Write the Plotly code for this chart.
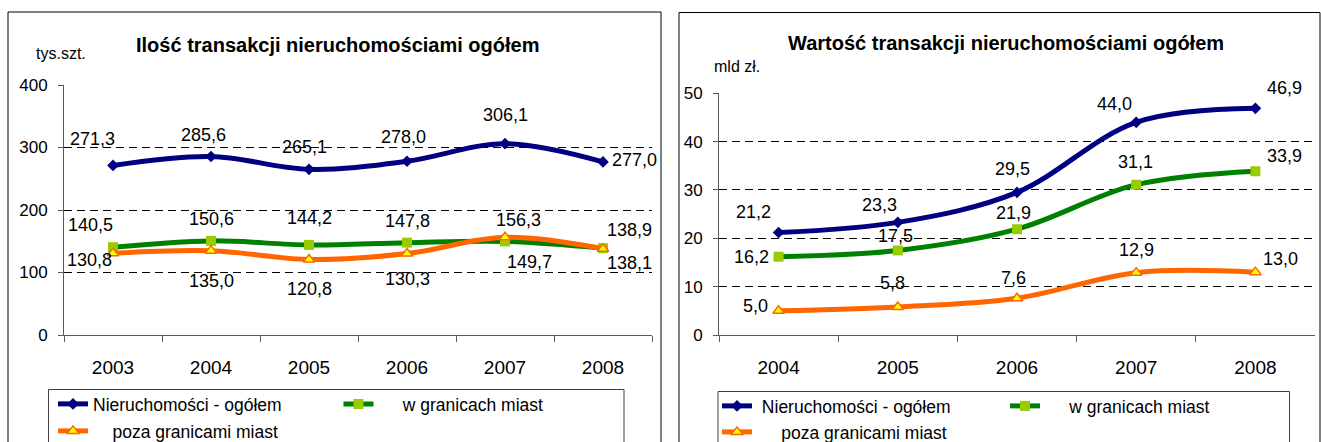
import plotly.graph_objects as go

W, H = 1321, 442
FONT = "Liberation Sans, Arial, sans-serif"


def px(x):
    return x / W


def py(y):
    return 1 - y / H


# ---------------- data ----------------
years_left = ["2003", "2004", "2005", "2006", "2007", "2008"]
left_total = [271.3, 285.6, 265.1, 278.0, 306.1, 277.0]
left_city = [140.5, 150.6, 144.2, 147.8, 149.7, 138.9]
left_outside = [130.8, 135.0, 120.8, 130.3, 156.3, 138.1]

years_right = ["2004", "2005", "2006", "2007", "2008"]
right_total = [21.2, 23.3, 29.5, 44.0, 46.9]
right_city = [16.2, 17.5, 21.9, 31.1, 33.9]
right_outside = [5.0, 5.8, 7.6, 12.9, 13.0]

series_names = ["Nieruchomości - ogółem", "w granicach miast", "poza granicami miast"]
left_title = "Ilość transakcji nieruchomościami ogółem"
right_title = "Wartość transakcji nieruchomościami ogółem"
left_unit = "tys.szt."
right_unit = "mld zł."

# label offsets (screen px; dy positive = down)
left_total_off = [(-21, -26), (-8, -22), (-5, -22), (-4, -24), (0, -29), (31, -2)]
left_city_off = [(-23, -22), (0, -22), (0, -27), (0, -22), (24, 21), (26, -18)]
left_outside_off = [(-24, 7), (0, 30), (0, 29), (0, 25), (13, -17), (26, 14)]
right_total_off = [(-25, -21), (-18, -17), (-5, -23), (-22, -18), (29, -20)]
right_city_off = [(-27, 0), (-2, -14), (-4, -16), (-1, -23), (29, -15)]
right_outside_off = [(-23, -5), (-5, -24), (-4, -20), (0, -23), (25, -13)]

styles = [
    dict(line=dict(color="#000080", width=5, shape="spline"),
         marker=dict(symbol="diamond", size=9, color="#000080")),
    dict(line=dict(color="#008000", width=5, shape="spline"),
         marker=dict(symbol="square", size=10, color="#99CC00", line=dict(width=0))),
    dict(line=dict(color="#FF6600", width=5, shape="spline"),
         marker=dict(symbol="triangle-up", size=10, color="#FFFF00",
                     line=dict(color="#FF6600", width=1.5))),
]

NB = "\u00a0"
legend_prefix = [["", NB * 5, NB * 4], [NB, NB * 5, NB * 5]]

fig = go.Figure()

panels = [
    ("x", "y", years_left, [left_total, left_city, left_outside],
     [left_total_off, left_city_off, left_outside_off], ["legend", "legend2", "legend3"]),
    ("x2", "y2", years_right, [right_total, right_city, right_outside],
     [right_total_off, right_city_off, right_outside_off], ["legend4", "legend5", "legend6"]),
]

annotations = []
for pi, (xa, ya, cats, vals, offs, legs) in enumerate(panels):
    for si in range(3):
        fig.add_trace(go.Scatter(
            x=cats, y=vals[si], mode="lines+markers",
            name=legend_prefix[pi][si] + series_names[si],
            xaxis=xa, yaxis=ya, legend=legs[si], hoverinfo="skip",
            **styles[si]))
        for ci, (v, (dx, dy)) in enumerate(zip(vals[si], offs[si])):
            annotations.append(dict(
                x=ci, y=v, xref=xa, yref=ya, showarrow=False,
                xanchor="center", yanchor="middle",
                text=f"{v:.1f}".replace(".", ","),
                xshift=dx, yshift=-dy,
                font=dict(size=18, color="black", family=FONT)))


def paper_text(x, y, text, size):
    return dict(x=px(x), y=py(y), xref="paper", yref="paper", showarrow=False,
                xanchor="center", yanchor="middle", text=text,
                font=dict(size=size, color="black", family=FONT))


annotations += [
    paper_text(337, 45, "<b>" + left_title + "</b>", 20),
    paper_text(1006, 43, "<b>" + right_title + "</b>", 20),
    paper_text(61, 53, left_unit, 16),
    paper_text(737, 66, right_unit, 16),
]

AX = "#595959"
xcommon = dict(type="category", showline=True, linecolor=AX, linewidth=1,
               ticks="outside", tickson="boundaries", ticklen=6, tickcolor=AX,
               showgrid=False, zeroline=False, ticklabelstandoff=15, automargin=False,
               tickangle=0, tickfont=dict(size=19, color="black", family=FONT))
ycommon = dict(showline=True, linecolor=AX, linewidth=1, ticks="outside",
               ticklen=5, tickcolor=AX, showgrid=True, gridcolor="black",
               griddash="8px,5px", gridwidth=1, zeroline=False, ticklabelstandoff=7,
               automargin=False, tickfont=dict(size=17, color="black", family=FONT))

fig.update_layout(
    width=W, height=H, autosize=False,
    margin=dict(l=0, r=0, t=0, b=0, pad=0, autoexpand=False),
    paper_bgcolor="white", plot_bgcolor="white",
    font=dict(family=FONT, color="black"),
    xaxis=dict(domain=[px(64), px(652)], anchor="y", range=[-0.5, 5.5], **xcommon),
    yaxis=dict(domain=[py(335), py(85)], anchor="x", range=[0, 400], dtick=100, **ycommon),
    xaxis2=dict(domain=[px(719), px(1315)], anchor="y2", range=[-0.5, 4.5], **xcommon),
    yaxis2=dict(domain=[py(335), py(93.3)], anchor="x2", range=[0, 50], dtick=10, **ycommon),
    annotations=annotations,
    showlegend=True,
)

leg_common = dict(orientation="h", xanchor="left", yanchor="middle",
                  bgcolor="rgba(0,0,0,0)", borderwidth=0,
                  font=dict(size=17.5, color="black", family=FONT))
legend_pos = {
    "legend": (53, 404), "legend2": (338.5, 404), "legend3": (53, 431),
    "legend4": (717, 406), "legend5": (1005, 406), "legend6": (717, 432),
}
for k, (lx, ly) in legend_pos.items():
    fig.update_layout({k: dict(x=px(lx), y=py(ly), **leg_common)})

# frames
shapes = [
    dict(type="rect", xref="paper", yref="paper", x0=px(8), x1=px(661), y0=-0.2, y1=py(12),
         line=dict(color="black", width=1), fillcolor="rgba(0,0,0,0)", layer="below"),
    dict(type="rect", xref="paper", yref="paper", x0=px(679), x1=px(1320), y0=-0.2, y1=py(12.5),
         line=dict(color="black", width=1), fillcolor="rgba(0,0,0,0)", layer="below"),
    dict(type="rect", xref="paper", yref="paper", x0=px(48.5), x1=px(624), y0=-0.2, y1=py(389.5),
         line=dict(color="#404040", width=1), fillcolor="rgba(0,0,0,0)", layer="below"),
    dict(type="rect", xref="paper", yref="paper", x0=px(718), x1=px(1289.5), y0=-0.2, y1=py(391.5),
         line=dict(color="#404040", width=1), fillcolor="rgba(0,0,0,0)", layer="below"),
]
fig.update_layout(shapes=shapes)

fig.write_html(
    "out.html",
    config={"displayModeBar": False, "staticPlot": True},
    post_script="document.body.style.margin='0';document.body.style.overflow='hidden';",
)
